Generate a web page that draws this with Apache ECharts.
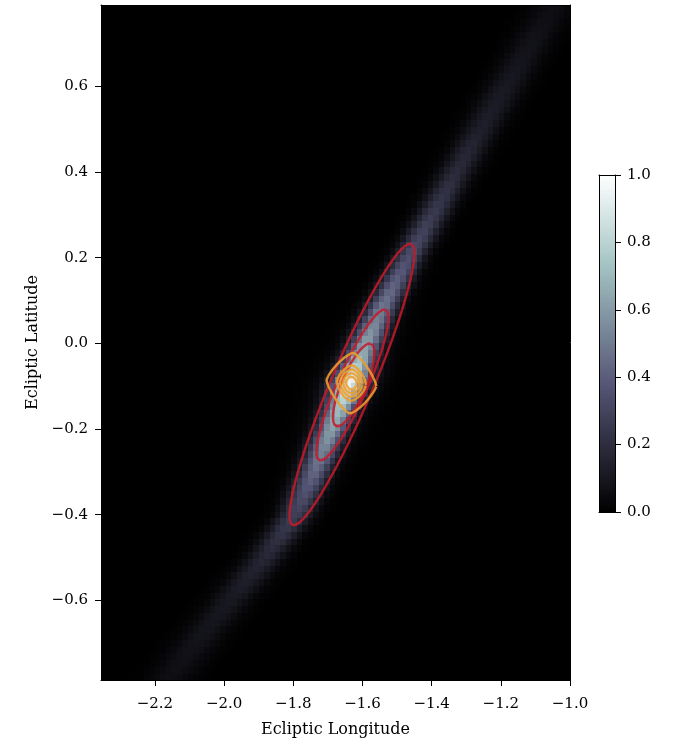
<!DOCTYPE html>
<html>
<head>
<meta charset="utf-8">
<script src="https://cdn.jsdelivr.net/npm/echarts@6/dist/echarts.min.js"></script>
<style>
  html, body { margin: 0; padding: 0; background: #ffffff; }
  #chart { width: 675px; height: 743px; }
</style>
</head>
<body>
<div id="chart"></div>
<script>
// ---- map extent and raster size ----
const lonRange = [-2.356, -1.0];
const latRange = [-0.786, 0.790];
const nCols = 86;
const nRows = 100;

// ---- tick labels ----
const lonTicks = [-2.2, -2.0, -1.8, -1.6, -1.4, -1.2, -1.0];
const latTicks = [-0.6, -0.4, -0.2, 0.0, 0.2, 0.4, 0.6];
const cbarTicks = [0.0, 0.2, 0.4, 0.6, 0.8, 1.0];

// ---- density ridge, sampled along latitude ----
const ridgeLat   = [-0.786, -0.70, -0.60, -0.50, -0.40, -0.30, -0.20, -0.15, -0.12, -0.09, -0.06, -0.02, 0.05, 0.10, 0.20, 0.30, 0.40, 0.50, 0.60, 0.70, 0.790];
const ridgeLon   = [-2.160, -2.080, -1.980, -1.880, -1.792, -1.738, -1.688, -1.663, -1.649, -1.635, -1.620, -1.600, -1.562, -1.532, -1.466, -1.397, -1.328, -1.257, -1.184, -1.112, -1.045];
const ridgePeak  = [0.06, 0.08, 0.11, 0.17, 0.28, 0.42, 0.56, 0.64, 0.72, 0.86, 0.70, 0.58, 0.50, 0.45, 0.35, 0.26, 0.19, 0.14, 0.11, 0.08, 0.06];
const ridgeSigma = [0.046, 0.044, 0.041, 0.037, 0.033, 0.031, 0.030, 0.030, 0.031, 0.032, 0.031, 0.030, 0.030, 0.030, 0.030, 0.032, 0.034, 0.036, 0.039, 0.041, 0.043];
const haloPeak   = [0, 0, 0, 0, 0, 0.02, 0.06, 0.09, 0.12, 0.14, 0.12, 0.08, 0.04, 0.02, 0, 0, 0, 0, 0, 0, 0];
const haloSigma = 0.055;

// ---- red contours (ellipses): centre, half-axis A, half-axis B ----
const redCenter = [[-1.6305, -0.096], [-1.629, -0.0972], [-1.6255, -0.0969]];
const redAxisA  = [[0.1715, 0.328], [0.096, 0.1758], [0.0505, 0.0962]];
const redAxisB  = [[0.0561, -0.0190], [0.0401, -0.0135], [0.0321, -0.0108]];

// ---- orange contours (rounded diamonds): common centre, axes, per-level scale/squareness ----
const orangeCenter = [-1.632, -0.093];
const orangeAxisA = [0.072, -0.007];
const orangeAxisB = [0.005, 0.071];
const orangeScale = [1.0, 0.58, 0.45, 0.33, 0.21];
const orangeShape = [1.3, 1.55, 1.65, 1.75, 1.85];

const FONT = 'DejaVu Serif';

// matplotlib "bone" colormap
function bone(t) {
  const r = t < 0.746032 ? 0.652778 * t / 0.746032
                         : 0.652778 + 0.347222 * (t - 0.746032) / 0.253968;
  const g = t < 0.365079 ? 0.319444 * t / 0.365079
          : t < 0.746032 ? 0.319444 + 0.458334 * (t - 0.365079) / 0.380953
                         : 0.777778 + 0.222222 * (t - 0.746032) / 0.253968;
  const b = t < 0.365079 ? 0.444444 * t / 0.365079
                         : 0.444444 + 0.555556 * (t - 0.365079) / 0.634921;
  const h = v => Math.round(v * 255).toString(16).padStart(2, '0');
  return '#' + h(r) + h(g) + h(b);
}
const boneColors = [];
for (let k = 0; k <= 32; k++) boneColors.push(bone(k / 32));

function sampleAt(arr, lat) {
  if (lat <= ridgeLat[0]) return arr[0];
  for (let k = 1; k < ridgeLat.length; k++) {
    if (lat <= ridgeLat[k]) {
      const f = (lat - ridgeLat[k - 1]) / (ridgeLat[k] - ridgeLat[k - 1]);
      return arr[k - 1] + f * (arr[k] - arr[k - 1]);
    }
  }
  return arr[arr.length - 1];
}

// raster cells: [lon, lat, density] at cell centres
const dLon = (lonRange[1] - lonRange[0]) / nCols;
const dLat = (latRange[1] - latRange[0]) / nRows;
const cells = [];
for (let j = 0; j < nRows; j++) {
  const lat = latRange[0] + (j + 0.5) * dLat;
  const c = sampleAt(ridgeLon, lat);
  const pk = sampleAt(ridgePeak, lat);
  const sg = sampleAt(ridgeSigma, lat);
  const hp = sampleAt(haloPeak, lat);
  for (let i = 0; i < nCols; i++) {
    const lon = lonRange[0] + (i + 0.5) * dLon;
    const u = (lon - c) / sg, w = (lon - c) / haloSigma;
    const v = pk * Math.exp(-0.5 * u * u) + hp * Math.exp(-0.5 * w * w);
    cells.push([lon, lat, Math.min(1, v)]);
  }
}

// colour bar cells
const cbarSteps = 256;
const cbarCells = [];
for (let k = 0; k < cbarSteps; k++) {
  const v = (k + 0.5) / cbarSteps;
  cbarCells.push([0.5, v, v]);
}

// raster cell drawn as a rect snapped outward to whole pixels (no seams)
function cellRenderer(halfW, halfH) {
  return function (params, api) {
    const x = api.value(0), y = api.value(1);
    const p0 = api.coord([x - halfW, y + halfH]);
    const p1 = api.coord([x + halfW, y - halfH]);
    const x0 = Math.floor(p0[0]), y0 = Math.floor(p0[1]);
    return {
      type: 'rect',
      shape: { x: x0, y: y0, width: Math.ceil(p1[0]) - x0, height: Math.ceil(p1[1]) - y0 },
      style: { fill: api.visual('color') }
    };
  };
}

function spow(v, e) { return Math.sign(v) * Math.pow(Math.abs(v), e); }
function outline(c, a, b, p) {
  const pts = [];
  const n = 240;
  for (let k = 0; k <= n; k++) {
    const t = 2 * Math.PI * k / n;
    const cu = spow(Math.cos(t), 2 / p), su = spow(Math.sin(t), 2 / p);
    pts.push([c[0] + a[0] * cu + b[0] * su, c[1] + a[1] * cu + b[1] * su]);
  }
  return pts;
}

const fmt = v => (v < 0 ? '\u2212' : '') + Math.abs(v).toFixed(1);

const contourSeries = [];
for (let k = 0; k < redCenter.length; k++) {
  contourSeries.push({
    type: 'line', xAxisIndex: 0, yAxisIndex: 0,
    data: outline(redCenter[k], redAxisA[k], redAxisB[k], 2),
    showSymbol: false, symbol: 'none', silent: true, z: 5,
    lineStyle: { color: 'rgba(200,26,40,0.85)', width: 2.4 }
  });
}
for (let k = 0; k < orangeScale.length; k++) {
  const s = orangeScale[k];
  contourSeries.push({
    type: 'line', xAxisIndex: 0, yAxisIndex: 0,
    data: outline(orangeCenter, [orangeAxisA[0] * s, orangeAxisA[1] * s],
                  [orangeAxisB[0] * s, orangeAxisB[1] * s], orangeShape[k]),
    showSymbol: false, symbol: 'none', silent: true, z: 6,
    lineStyle: { color: 'rgba(238,158,45,0.88)', width: 2.4 }
  });
}

const spine = { show: true, onZero: false, lineStyle: { color: '#000', width: 1 } };
const tickFont = { fontFamily: FONT, fontSize: 15, color: '#000' };
const plainAxis = (grid, pos, min, max) => ({
  gridIndex: grid, type: 'value', min: min, max: max, position: pos, z: 10,
  axisLine: spine, axisTick: { show: false }, axisLabel: { show: false }, splitLine: { show: false }
});

const chart = echarts.init(document.getElementById('chart'), null, { renderer: 'canvas' });
chart.setOption({
  animation: false,
  backgroundColor: '#ffffff',
  grid: [
    { left: 101, top: 5, width: 469, height: 677 },
    { left: 599, top: 175, width: 16, height: 337 }
  ],
  visualMap: {
    type: 'continuous', show: false, min: 0, max: 1, dimension: 2,
    seriesIndex: [0, 1], inRange: { color: boneColors }
  },
  xAxis: [
    {
      gridIndex: 0, type: 'value', min: lonRange[0], max: lonRange[1], position: 'bottom', z: 10,
      name: 'Ecliptic Longitude', nameLocation: 'middle', nameGap: 42,
      nameTextStyle: { fontFamily: FONT, fontSize: 16, color: '#000' },
      axisLine: spine,
      axisTick: { show: true, customValues: lonTicks, length: 6, lineStyle: { color: '#000', width: 1 } },
      axisLabel: Object.assign({ customValues: lonTicks, formatter: fmt, margin: 17 }, tickFont),
      splitLine: { show: false }
    },
    plainAxis(0, 'top', lonRange[0], lonRange[1]),
    plainAxis(1, 'bottom', 0, 1),
    plainAxis(1, 'top', 0, 1)
  ],
  yAxis: [
    {
      gridIndex: 0, type: 'value', min: latRange[0], max: latRange[1], position: 'left', z: 10,
      name: 'Ecliptic Latitude', nameLocation: 'middle', nameGap: 60, nameRotate: 90,
      nameTextStyle: { fontFamily: FONT, fontSize: 16, color: '#000' },
      axisLine: spine,
      axisTick: { show: true, customValues: latTicks, length: 6, lineStyle: { color: '#000', width: 1 } },
      axisLabel: Object.assign({ customValues: latTicks, formatter: fmt, margin: 13 }, tickFont),
      splitLine: { show: false }
    },
    plainAxis(0, 'right', latRange[0], latRange[1]),
    {
      gridIndex: 1, type: 'value', min: 0, max: 1, position: 'right', z: 10,
      axisLine: spine,
      axisTick: { show: true, customValues: cbarTicks, length: 6, lineStyle: { color: '#000', width: 1 } },
      axisLabel: Object.assign({ customValues: cbarTicks, formatter: v => v.toFixed(1), margin: 12 }, tickFont),
      splitLine: { show: false }
    },
    plainAxis(1, 'left', 0, 1)
  ],
  series: [
    {
      type: 'custom', xAxisIndex: 0, yAxisIndex: 0, data: cells,
      renderItem: cellRenderer(dLon / 2, dLat / 2), clip: true,
      progressive: 0, silent: true, z: 1
    },
    {
      type: 'custom', xAxisIndex: 2, yAxisIndex: 2, data: cbarCells,
      renderItem: cellRenderer(0.5, 0.5 / cbarSteps), clip: true,
      progressive: 0, silent: true, z: 1
    }
  ].concat(contourSeries)
});
</script>
</body>
</html>
